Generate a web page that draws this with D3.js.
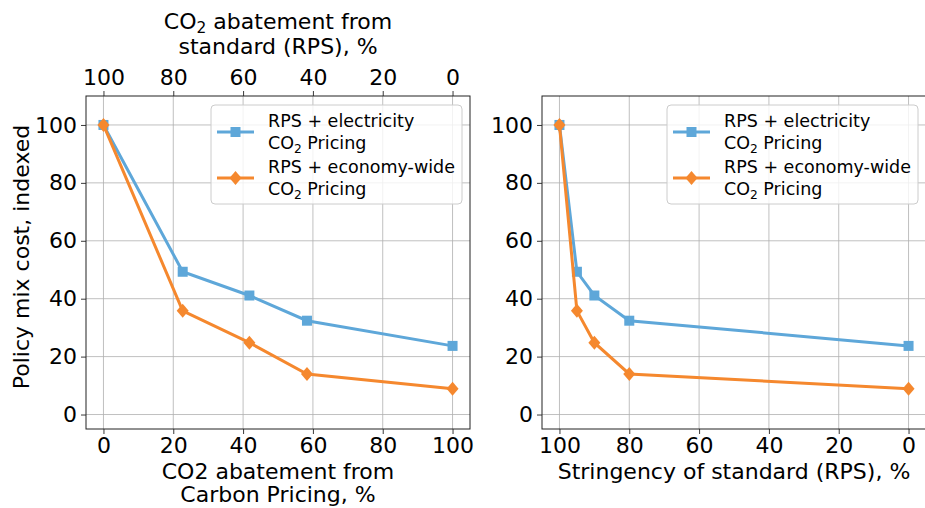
<!DOCTYPE html>
<html>
<head>
<meta charset="utf-8">
<script src="https://cdn.jsdelivr.net/npm/d3@7"></script>
<style>
  body { margin: 0; background: #fff; }
  svg text { font-family: "DejaVu Sans", sans-serif; fill: #000; }
</style>
</head>
<body>
<div id="chart"></div>
<script>
const width = 925;
const height = 508;

// data
const carbonAbatement = [0, 22.7, 41.8, 58.3, 100];
const stringency = [100, 95, 90, 80, 0];
const electricityCost = [100, 49.3, 41.1, 32.4, 23.7];
const economyCost = [100, 35.8, 24.8, 14, 8.9];
const xTicks = [0, 20, 40, 60, 80, 100];
const yTicks = [0, 20, 40, 60, 80, 100];
const seriesNames = [["RPS + electricity", "Pricing"], ["RPS + economy-wide", "Pricing"]];

const blue = "#5ea7d9";
const orange = "#f5882e";
const fs = 22;

const svg = d3.select("#chart").append("svg").attr("width", width).attr("height", height);

const plotTop = 96, plotBottom = 429, plotW = 384;
const y = d3.scaleLinear().domain([-5, 110]).range([plotBottom, plotTop]);

function co2(sel, size, x, yPos, rest, anchor) {
  const t = sel.append("text").attr("x", x).attr("y", yPos).attr("font-size", size).attr("text-anchor", anchor || "start");
  t.append("tspan").text("CO");
  t.append("tspan").attr("font-size", size * 0.7).attr("dy", size * 0.2).text("2");
  t.append("tspan").attr("dy", -size * 0.2).text(" " + rest);
  return t;
}

function panel(left, domain, xs, showTop) {
  const x = d3.scaleLinear().domain(domain).range([left, left + plotW]);
  const g = svg.append("g");

  // grid
  g.selectAll(".gx").data(xTicks).join("line")
    .attr("x1", d => x(d)).attr("x2", d => x(d)).attr("y1", plotTop).attr("y2", plotBottom)
    .attr("stroke", "#b0b0b0").attr("stroke-width", 0.8);
  g.selectAll(".gy").data(yTicks).join("line")
    .attr("x1", left).attr("x2", left + plotW).attr("y1", d => y(d)).attr("y2", d => y(d))
    .attr("stroke", "#b0b0b0").attr("stroke-width", 0.8);

  // axes
  const xAxis = g.append("g").attr("transform", `translate(0,${plotBottom})`)
    .call(d3.axisBottom(x).tickValues(xTicks).tickSize(5).tickPadding(3));
  const yAxis = g.append("g").attr("transform", `translate(${left},0)`)
    .call(d3.axisLeft(y).tickValues(yTicks).tickSize(5).tickPadding(4));
  const axes = [xAxis, yAxis];
  if (showTop) {
    const xTop = d3.scaleLinear().domain([100 - domain[0], 100 - domain[1]]).range(x.range());
    axes.push(g.append("g").attr("transform", `translate(0,${plotTop})`)
      .call(d3.axisTop(xTop).tickValues(xTicks).tickSize(5).tickPadding(6)));
  }
  axes.forEach(a => {
    a.selectAll("text").attr("font-size", fs).attr("font-family", "DejaVu Sans");
    a.select(".domain").remove();
    a.selectAll(".tick line").attr("stroke", "#222").attr("stroke-width", 0.9);
  });

  // frame
  g.append("rect").attr("x", left).attr("y", plotTop).attr("width", plotW).attr("height", plotBottom - plotTop)
    .attr("fill", "none").attr("stroke", "#222").attr("stroke-width", 1);

  const line = d3.line().x(d => x(d[0])).y(d => y(d[1]));
  const s1 = xs.map((v, i) => [v, electricityCost[i]]);
  const s2 = xs.map((v, i) => [v, economyCost[i]]);

  g.append("path").datum(s1).attr("d", line).attr("fill", "none").attr("stroke", blue).attr("stroke-width", 3);
  g.selectAll(".sq").data(s1).join("rect")
    .attr("x", d => x(d[0]) - 5).attr("y", d => y(d[1]) - 5).attr("width", 10).attr("height", 10).attr("fill", blue);
  g.append("path").datum(s2).attr("d", line).attr("fill", "none").attr("stroke", orange).attr("stroke-width", 3);
  g.selectAll(".dm").data(s2).join("path")
    .attr("transform", d => `translate(${x(d[0])},${y(d[1])})`)
    .attr("d", "M0,-7L6,0L0,7L-6,0Z").attr("fill", orange);

  // legend
  const lx = left + plotW - 259, ly = 105;
  const lg = g.append("g");
  lg.append("rect").attr("x", lx).attr("y", ly).attr("width", 251).attr("height", 99).attr("rx", 4)
    .attr("fill", "#fff").attr("fill-opacity", 0.8).attr("stroke", "#ccc");
  [[blue, "sq"], [orange, "dm"]].forEach(([c, m], i) => {
    const cy = ly + 27 + i * 46;
    lg.append("line").attr("x1", lx + 6).attr("x2", lx + 43).attr("y1", cy).attr("y2", cy)
      .attr("stroke", c).attr("stroke-width", 3);
    if (m === "sq") lg.append("rect").attr("x", lx + 19.5).attr("y", cy - 5).attr("width", 10).attr("height", 10).attr("fill", c);
    else lg.append("path").attr("transform", `translate(${lx + 24.5},${cy})`).attr("d", "M0,-7L6,0L0,7L-6,0Z").attr("fill", c);
    lg.append("text").attr("x", lx + 57).attr("y", cy - 5).attr("font-size", 17.5).text(seriesNames[i][0]);
    co2(lg, 17.5, lx + 57, cy + 17, seriesNames[i][1]);
  });
  return g;
}

panel(86, [-5, 105], carbonAbatement, true);
panel(542, [105, -5], stringency, false);

// axis titles
const lc = 86 + plotW / 2;
co2(svg, fs, lc, 29, "abatement from", "middle");
svg.append("text").attr("x", lc).attr("y", 54).attr("font-size", fs).attr("text-anchor", "middle").text("standard (RPS), %");
svg.append("text").attr("x", lc).attr("y", 479).attr("font-size", fs).attr("text-anchor", "middle").text("CO2 abatement from");
svg.append("text").attr("x", lc).attr("y", 502).attr("font-size", fs).attr("text-anchor", "middle").text("Carbon Pricing, %");
svg.append("text").attr("x", 542 + plotW / 2).attr("y", 479).attr("font-size", fs).attr("text-anchor", "middle").text("Stringency of standard (RPS), %");
svg.append("text").attr("transform", "translate(29,257) rotate(-90)").attr("font-size", fs)
  .attr("text-anchor", "middle").text("Policy mix cost, indexed");
</script>
</body>
</html>
